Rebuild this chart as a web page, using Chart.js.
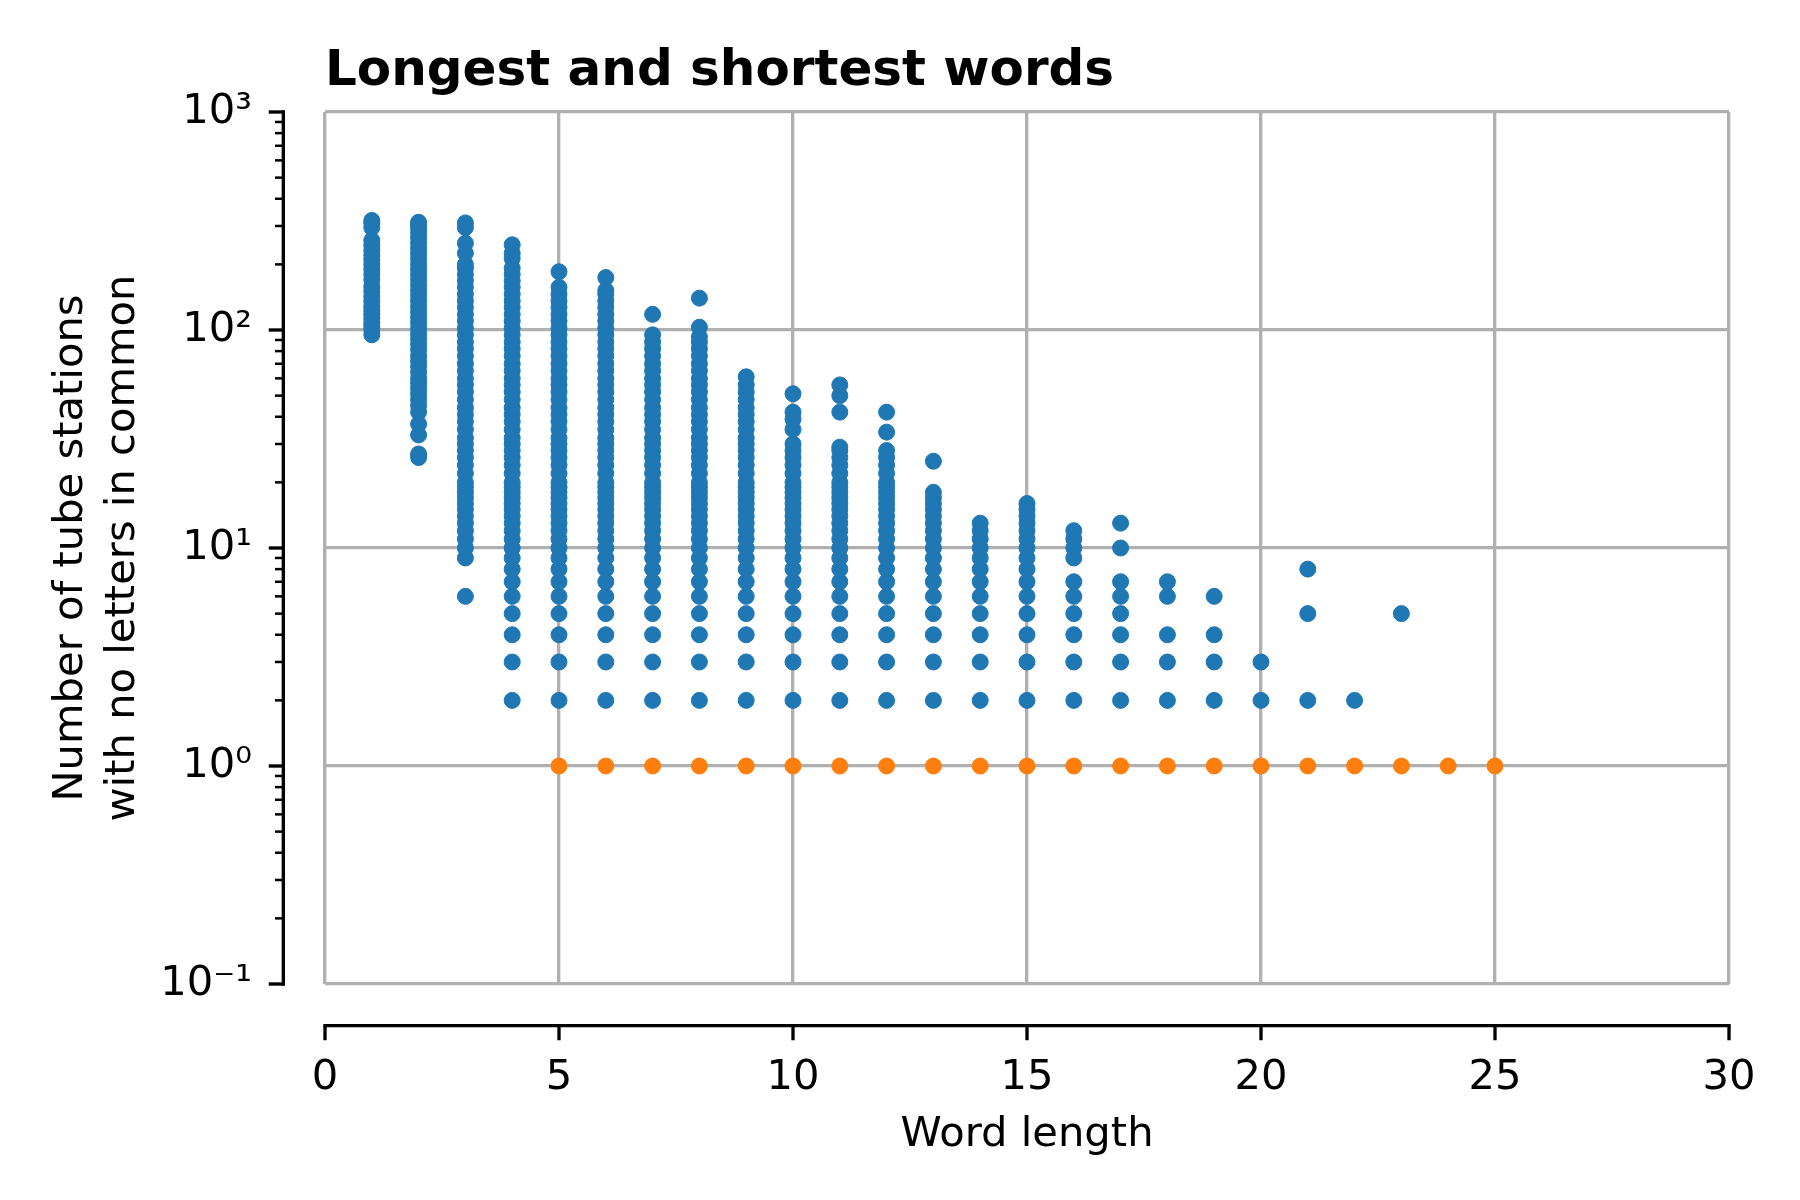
<!DOCTYPE html>
<html><head><meta charset="utf-8">
<script src="https://cdn.jsdelivr.net/npm/chart.js@4.4.0/dist/chart.umd.min.js"></script>
<style>html,body{margin:0;padding:0;background:#fff}canvas{display:block}</style>
</head><body>
<canvas id="c" width="1800" height="1200"></canvas>
<script>
// ---- data ----
const titleText = 'Longest and shortest words';
const xTitle = 'Word length';
const yTitle = ['Number of tube stations', 'with no letters in common'];
const xTickValues = [0, 5, 10, 15, 20, 25, 30];
const yTickValues = [0.1, 1, 10, 100, 1000];
const yTickLabels = ['10\u207B\u00B9', '10\u2070', '10\u00B9', '10\u00B2', '10\u00B3'];

// word lengths of the blue series and the station counts found at each length
const wordLengths = [1,2,3,4,5,6,7,8,9,10,11,12,13,14,15,16,17,18,19,20,21,22,23];
const len01 = [95,100,104,108,113,118,123,128,135,142,150,158,170,180,190,200,210,220,232,245,258,295,310,318];
const len02 = [26,27,33,37,42,45,48,51,54,57,60,64,68,72,76,81,86,91,96,102,108,114,121,128,136,144,152,161,170,180,190,200,212,224,237,250,265,280,295,305,312];
const len03 = [6,9,10,11,12,13,14,15,16,17,18,19,20,22,24,26,28,30,32,35,38,41,44,48,52,56,60,65,70,76,82,88,95,102,110,118,127,136,146,157,168,180,192,200,225,250,295,310];
const len04 = [2,3,4,5,6,7,8,9,10,11,12,13,14,15,16,17,18,19,20,22,24,26,28,30,32,35,38,41,44,48,52,56,60,65,70,76,82,88,95,102,110,118,127,136,146,157,168,180,192,213,225,246];
const len05 = [2,3,4,5,6,7,8,9,10,11,12,13,14,15,16,17,18,19,20,22,24,26,28,30,32,35,38,41,44,48,52,56,60,65,70,76,82,88,95,102,110,118,127,136,146,157,185];
const len06 = [2,3,4,5,6,7,8,9,10,11,12,13,14,15,16,17,18,19,20,22,24,26,28,30,32,35,38,41,44,48,52,56,60,65,70,76,82,88,95,102,110,118,127,136,146,152,174];
const len07 = [2,3,4,5,6,7,8,9,10,11,12,13,14,15,16,17,18,19,20,22,24,26,28,30,32,35,38,41,44,48,52,56,60,65,70,76,82,88,95,118];
const len08 = [2,3,4,5,6,7,8,9,10,11,12,13,14,15,16,17,18,19,20,22,24,26,28,30,32,35,38,41,44,48,52,56,60,65,70,76,82,88,93,103,140];
const len09 = [2,3,4,5,6,7,8,9,10,11,12,13,14,15,16,17,18,19,20,22,24,26,28,30,32,35,38,41,44,48,52,56,61];
const len10 = [2,3,4,5,6,7,8,9,10,11,12,13,14,15,16,17,18,19,20,22,24,26,28,30,35,39,42,51];
const len11 = [2,3,4,5,6,7,8,9,10,11,12,13,14,15,16,17,18,19,20,22,24,26,28,29,42,50,56];
const len12 = [2,3,4,5,6,7,8,9,10,11,12,13,14,15,16,17,18,19,20,22,24,26,28,34,42];
const len13 = [2,3,4,5,6,7,8,9,10,11,12,13,14,15,16,17,18,25];
const len14 = [2,3,4,5,6,7,8,9,10,11,12,13];
const len15 = [2,3,4,5,6,7,8,9,10,11,12,13,14,15,16];
const len16 = [2,3,4,5,6,7,9,10,11,12];
const len17 = [2,3,4,5,6,7,10,13];
const len18 = [2,3,4,6,7];
const len19 = [2,3,4,6];
const len20 = [2,3];
const len21 = [2,5,8];
const len22 = [2];
const len23 = [5];
const blueColumns = [len01,len02,len03,len04,len05,len06,len07,len08,len09,len10,len11,len12,len13,len14,len15,len16,len17,len18,len19,len20,len21,len22,len23];

// orange series
const shortLengths = [5,6,7,8,9,10,11,12,13,14,15,16,17,18,19,20,21,22,23,24,25];
const shortCounts  = [1,1,1,1,1,1,1,1,1,1,1,1,1,1,1,1,1,1,1,1,1];

// ---- build the chart ----
const bluePoints = [];
wordLengths.forEach((len, i) => blueColumns[i].forEach(v => bluePoints.push({x: len, y: v})));
const orangePoints = shortLengths.map((len, i) => ({x: len, y: shortCounts[i]}));

Chart.defaults.font.family = 'DejaVu Sans';
Chart.defaults.color = '#000';

const PT = 300 / 72; // pixels per point at 300 dpi
const FS = 10 * PT;

const spinePlugin = {
  id: 'offsetSpines',
  afterDraw(chart) {
    const {ctx, chartArea, scales} = chart;
    const xs = scales.x, ys = scales.y;
    const off = 10 * PT;
    const line = (x1, y1, x2, y2) => { ctx.beginPath(); ctx.moveTo(x1, y1); ctx.lineTo(x2, y2); ctx.stroke(); };
    ctx.save();
    ctx.strokeStyle = '#000';
    ctx.lineCap = 'butt';
    // y spine
    const sx = chartArea.left - off;
    ctx.lineWidth = 0.8 * PT;
    line(sx, chartArea.top - 0.4 * PT, sx, chartArea.bottom + 0.4 * PT);
    yTickValues.forEach(v => { const p = ys.getPixelForValue(v); line(sx - 3.5 * PT, p, sx, p); });
    ctx.lineWidth = 0.6 * PT;
    for (let d = -1; d < 3; d++) {
      for (let k = 2; k <= 9; k++) {
        const p = ys.getPixelForValue(k * Math.pow(10, d));
        line(sx - 2 * PT, p, sx, p);
      }
    }
    // x spine
    const sy = chartArea.bottom + off;
    ctx.lineWidth = 0.8 * PT;
    line(chartArea.left - 0.4 * PT, sy, chartArea.right + 0.4 * PT, sy);
    xTickValues.forEach(v => { const p = xs.getPixelForValue(v); line(p, sy, p, sy + 3.5 * PT); });
    ctx.restore();
  }
};

new Chart(document.getElementById('c'), {
  type: 'scatter',
  data: {
    datasets: [
      {label: 'longest', data: bluePoints, backgroundColor: '#1f77b4', borderColor: '#1f77b4', borderWidth: 1, pointRadius: 8, pointHoverRadius: 8, order: 2},
      {label: 'shortest', data: orangePoints, backgroundColor: '#ff7f0e', borderColor: '#ff7f0e', borderWidth: 1, pointRadius: 8, pointHoverRadius: 8, order: 1}
    ]
  },
  options: {
    responsive: false,
    devicePixelRatio: 1,
    animation: false,
    events: [],
    layout: {autoPadding: false, padding: {left: 0, right: 71, top: 0, bottom: 0}},
    plugins: {
      legend: {display: false},
      tooltip: {enabled: false},
      title: {
        display: true, text: titleText, align: 'start', fullSize: false,
        font: {family: 'DejaVu Sans', size: 12 * PT, weight: 'bold', lineHeight: 1.2},
        padding: {top: 42, bottom: 10}, color: '#000'
      }
    },
    scales: {
      x: {
        type: 'linear', min: 0, max: 30,
        afterBuildTicks: s => { s.ticks = xTickValues.map(v => ({value: v})); },
        afterFit: s => { s.height = 216; s.paddingLeft = 0; s.paddingRight = 0; },
        ticks: {padding: 69, maxRotation: 0, autoSkip: false, font: {size: FS}, color: '#000'},
        grid: {color: '#b0b0b0', lineWidth: 0.8 * PT, drawTicks: false},
        border: {display: false},
        title: {display: true, text: xTitle, font: {size: FS, lineHeight: 1.2}, padding: {top: 0, bottom: 40}, color: '#000'}
      },
      y: {
        type: 'logarithmic', min: 0.1, max: 1000,
        afterBuildTicks: s => { s.ticks = yTickValues.map(v => ({value: v})); },
        afterFit: s => { s.width = 325; s.paddingTop = 0; s.paddingBottom = 0; },
        ticks: {padding: 73, autoSkip: false, font: {size: FS}, color: '#000',
          callback: (v, i) => yTickLabels[i]},
        grid: {color: '#b0b0b0', lineWidth: 0.8 * PT, drawTicks: false},
        border: {display: false},
        title: {display: true, text: yTitle, font: {size: FS, lineHeight: 52 / FS}, padding: {top: 45, bottom: 0}, color: '#000'}
      }
    }
  },
  plugins: [spinePlugin]
});
</script>
</body></html>
